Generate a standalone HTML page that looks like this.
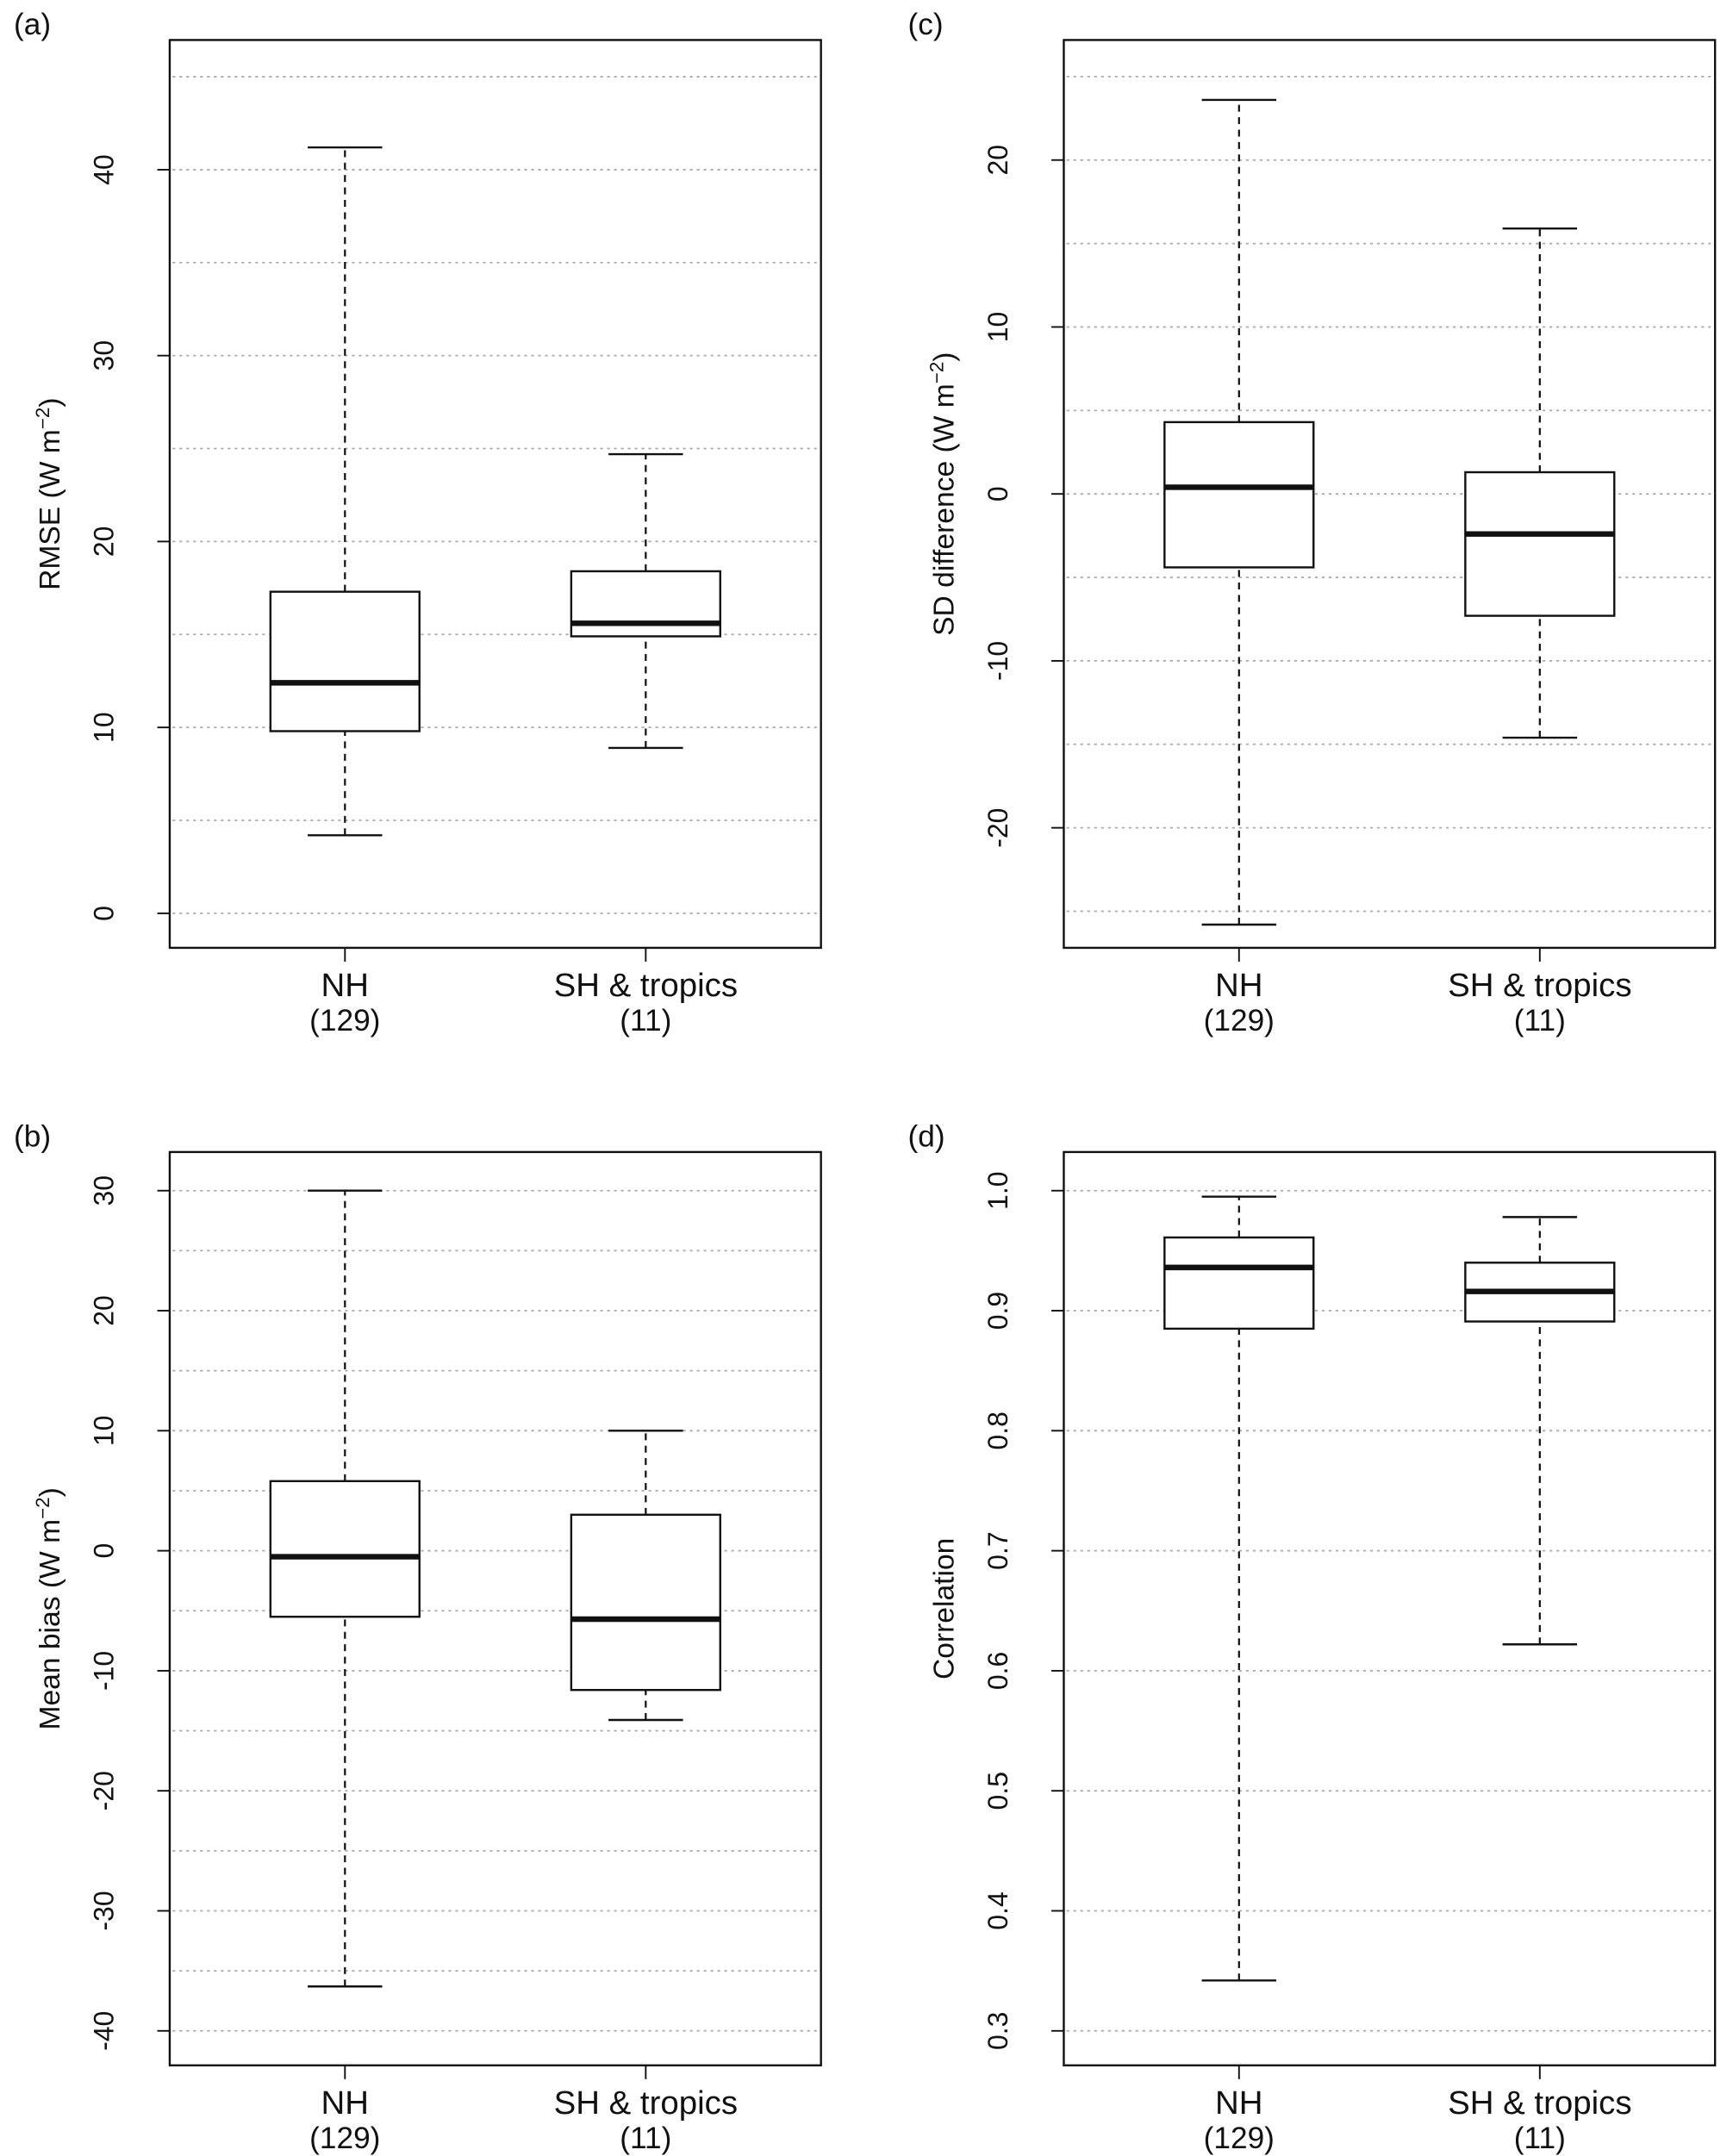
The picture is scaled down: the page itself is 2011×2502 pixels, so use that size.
<!DOCTYPE html>
<html><head><meta charset="utf-8"><style>
html,body{margin:0;padding:0;background:#fff}
svg{display:block}
text{font-family:"Liberation Sans",Arial,sans-serif;fill:#111}
</style></head><body>
<svg id="fig" width="2011" height="2502" viewBox="0 0 1256 1562.7" xmlns="http://www.w3.org/2000/svg"></svg>
<script>
const categories = ["NH", "SH & tropics"];
const counts = ["(129)", "(11)"];
// [min, q1, median, q3, max]
const rmseNH = [4.2, 9.8, 12.4, 17.3, 41.2];
const rmseSH = [8.9, 14.9, 15.6, 18.4, 24.7];
const biasNH = [-36.3, -5.5, -0.5, 5.8, 30.0];
const biasSH = [-14.1, -11.6, -5.7, 3.0, 10.0];
const sdNH = [-25.8, -4.4, 0.4, 4.3, 23.6];
const sdSH = [-14.6, -7.3, -2.4, 1.3, 15.9];
const corNH = [0.342, 0.885, 0.936, 0.961, 0.995];
const corSH = [0.622, 0.891, 0.916, 0.940, 0.978];
const rmseTicks = [0, 10, 20, 30, 40];
const biasTicks = [-40, -30, -20, -10, 0, 10, 20, 30];
const sdTicks = [-20, -10, 0, 10, 20];
const corTicks = [0.3, 0.4, 0.5, 0.6, 0.7, 0.8, 0.9, 1.0];

const NS = "http://www.w3.org/2000/svg";
const svg = document.getElementById("fig");
function mk(tag, attrs, parent) {
  const e = document.createElementNS(NS, tag);
  for (const k in attrs) e.setAttribute(k, attrs[k]);
  (parent || svg).appendChild(e);
  return e;
}
function panel(p) {
  const g = mk("g", {});
  
  
  const y = v => p.y0 + (v - p.v0) * (p.y1 - p.y0) / (p.v1 - p.v0);
  const xs = [p.L + 127, p.L + 345];
  for (const gv of p.grid) {
    const l = mk("line", {x1: p.L + 2, x2: p.R - 2, y1: y(gv), y2: y(gv), stroke: "#aaa", "stroke-width": 1.1, "stroke-dasharray": "2,3"}, g);
    
    
  }
  const fr = mk("rect", {x: p.L, y: p.T, width: p.R - p.L, height: p.B - p.T, fill: "none", stroke: "#111", "stroke-width": 1.5}, g);
  
  
  for (const t of p.ticks) {
    const tk = mk("line", {x1: p.L - 9, x2: p.L, y1: y(t), y2: y(t), stroke: "#111", "stroke-width": 1.2}, g);
    
    
    const tx = mk("text", {x: 0, y: 0, "font-size": 20, "text-anchor": "middle", transform: `translate(${p.L - 41},${y(t)}) rotate(-90)`}, g);
    tx.textContent = p.fmt(t);
    
    
  }
  const yt = mk("text", {x: 0, y: 0, "font-size": 21, "text-anchor": "middle", transform: `translate(${p.L - 80},${(p.T + p.B) / 2}) rotate(-90)`}, g);
  yt.innerHTML = p.title;
  
  
  const lt = mk("text", {x: p.L - 113, y: p.T - 4, "font-size": 22}, g);
  lt.textContent = "(" + p.id + ")";
  
  
  [p.a, p.b].forEach((d, i) => {
    const x = xs[i];
    const bg = mk("g", {}, g);
    
    
    mk("line", {x1: x, x2: x, y1: y(d[0]), y2: y(d[1]), stroke: "#111", "stroke-width": 1.4, "stroke-dasharray": "5,4"}, bg);
    mk("line", {x1: x, x2: x, y1: y(d[3]), y2: y(d[4]), stroke: "#111", "stroke-width": 1.4, "stroke-dasharray": "5,4"}, bg);
    mk("line", {x1: x - 27, x2: x + 27, y1: y(d[0]), y2: y(d[0]), stroke: "#111", "stroke-width": 1.5}, bg);
    mk("line", {x1: x - 27, x2: x + 27, y1: y(d[4]), y2: y(d[4]), stroke: "#111", "stroke-width": 1.5}, bg);
    mk("rect", {x: x - 54, y: y(d[3]), width: 108, height: y(d[1]) - y(d[3]), fill: "#fff", stroke: "#111", "stroke-width": 1.5}, bg);
    mk("line", {x1: x - 54, x2: x + 54, y1: y(d[2]), y2: y(d[2]), stroke: "#111", "stroke-width": 4}, bg);
    const xt = mk("line", {x1: x, x2: x, y1: p.B, y2: p.B + 10, stroke: "#111", "stroke-width": 1.2}, g);
    
    
    const c1 = mk("text", {x: x, y: p.B + 35, "font-size": 24, "text-anchor": "middle"}, g);
    c1.textContent = categories[i];
    
    
    const c2 = mk("text", {x: x, y: p.B + 60, "font-size": 22, "text-anchor": "middle"}, g);
    c2.textContent = counts[i];
    
    
  });
}
const rng = (a, b, s) => { const r = []; for (let v = a; v <= b + 1e-9; v += s) r.push(+v.toFixed(3)); return r; };
const sup = 'W m<tspan baseline-shift="super" font-size="14">−2</tspan>)';
panel({id: "a", L: 123, R: 595, T: 29, B: 687, v0: 0, y0: 662, v1: 40, y1: 123, ticks: rmseTicks, grid: rng(0, 45, 5), a: rmseNH, b: rmseSH, fmt: t => String(t), title: "RMSE (" + sup});
panel({id: "c", L: 771, R: 1243, T: 29, B: 687, v0: 0, y0: 358, v1: 20, y1: 116, ticks: sdTicks, grid: rng(-25, 25, 5), a: sdNH, b: sdSH, fmt: t => String(t), title: "SD difference (" + sup});
panel({id: "b", L: 123, R: 595, T: 835, B: 1497, v0: 30, y0: 863, v1: -40, y1: 1472, ticks: biasTicks, grid: rng(-40, 30, 5), a: biasNH, b: biasSH, fmt: t => String(t), title: "Mean bias (" + sup});
panel({id: "d", L: 771, R: 1243, T: 835, B: 1497, v0: 1.0, y0: 863, v1: 0.3, y1: 1472, ticks: corTicks, grid: rng(0.3, 1.0, 0.1), a: corNH, b: corSH, fmt: t => t.toFixed(1), title: "Correlation"});
</script>
</body></html>
